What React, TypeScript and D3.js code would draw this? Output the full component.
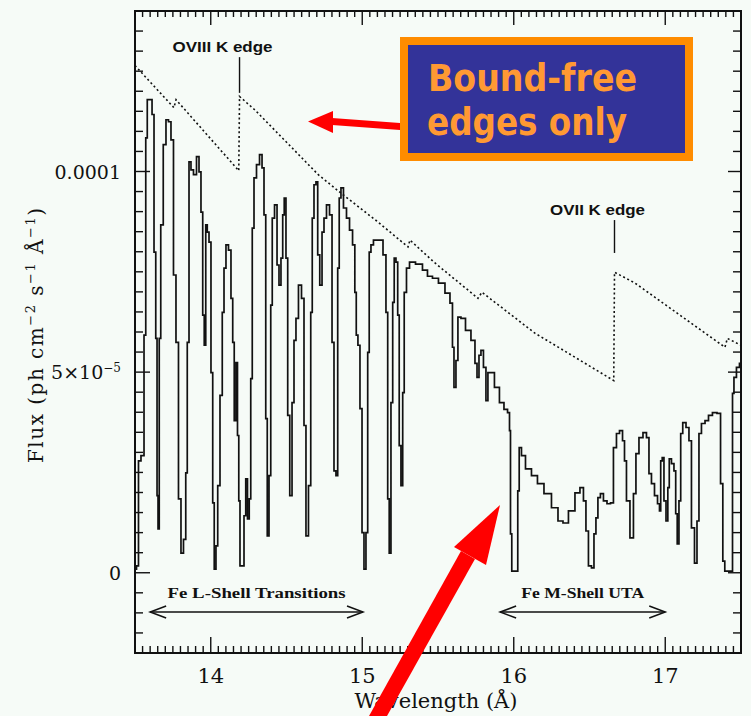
import React from "react";
import * as d3 from "d3";

// Model spectrum: wavelength (Å) and flux in units of 1e-5 ph cm^-2 s^-1 Å^-1
const specWl = [
  13.5, 13.52, 13.526, 13.553, 13.566, 13.576, 13.586, 13.606, 13.619, 13.632,
  13.642, 13.649, 13.655, 13.665, 13.675, 13.698, 13.711, 13.731, 13.744, 13.764,
  13.777, 13.797, 13.81, 13.83, 13.84, 13.85, 13.863, 13.876, 13.896, 13.916,
  13.929, 13.942, 13.952, 13.962, 13.972, 13.982, 13.995, 14.008, 14.018, 14.028,
  14.041, 14.051, 14.071, 14.081, 14.094, 14.107, 14.127, 14.14, 14.15, 14.16,
  14.173, 14.18, 14.19, 14.196, 14.213, 14.226, 14.236, 14.249, 14.259, 14.269,
  14.279, 14.292, 14.312, 14.332, 14.345, 14.358, 14.368, 14.378, 14.391, 14.401,
  14.411, 14.431, 14.444, 14.457, 14.47, 14.48, 14.49, 14.503, 14.513, 14.53,
  14.543, 14.556, 14.569, 14.589, 14.609, 14.622, 14.635, 14.655, 14.665, 14.675,
  14.688, 14.701, 14.711, 14.728, 14.741, 14.754, 14.774, 14.794, 14.807, 14.82,
  14.833, 14.843, 14.853, 14.866, 14.886, 14.906, 14.926, 14.946, 14.956, 14.965,
  14.978, 14.992, 15.005, 15.018, 15.031, 15.041, 15.051, 15.064, 15.084, 15.124,
  15.15, 15.163, 15.173, 15.183, 15.196, 15.206, 15.216, 15.229, 15.239, 15.249,
  15.262, 15.272, 15.282, 15.302, 15.322, 15.381, 15.414, 15.447, 15.48, 15.526,
  15.566, 15.592, 15.599, 15.612, 15.625, 15.638, 15.665, 15.698, 15.737, 15.751,
  15.764, 15.777, 15.79, 15.81, 15.823, 15.836, 15.856, 15.889, 15.922, 15.949,
  15.969, 15.975, 15.982, 15.992, 16.022, 16.031, 16.041, 16.061, 16.094, 16.14,
  16.173, 16.226, 16.272, 16.312, 16.338, 16.384, 16.424, 16.45, 16.47, 16.483,
  16.503, 16.523, 16.536, 16.549, 16.562, 16.582, 16.602, 16.629, 16.648, 16.668,
  16.688, 16.708, 16.728, 16.734, 16.754, 16.78, 16.8, 16.813, 16.84, 16.866,
  16.886, 16.899, 16.919, 16.939, 16.959, 16.965, 16.975, 16.985, 16.998, 17.012,
  17.022, 17.031, 17.051, 17.064, 17.074, 17.084, 17.097, 17.107, 17.124, 17.15,
  17.163, 17.183, 17.203, 17.216, 17.229, 17.249, 17.276, 17.295, 17.328, 17.355,
  17.375, 17.385, 17.401, 17.441, 17.447, 17.46, 17.48, 17.5,
];
const specFlux = [
  0.09, 0.17, 2.79, 2.92, 5.92, 10.84, 11.79, 11.79, 11.42, 7.99,
  5.84, 1.92, 1.09, 5.84, 8.67, 10.67, 11.29, 11.24, 10.79, 7.42,
  5.74, 1.84, 0.49, 0.83, 2.49, 5.74, 10.24, 10.04, 9.92, 10.37,
  9.99, 8.99, 6.42, 5.67, 8.67, 8.49, 8.24, 4.99, 1.74, 0.09,
  0.67, 2.17, 4.42, 6.49, 7.59, 8.17, 8.04, 6.84, 5.74, 3.79,
  5.24, 3.42, 1.79, 0.17, 0.17, 1.42, 2.34, 1.34, 1.84, 4.84,
  8.59, 9.84, 10.17, 10.42, 10.09, 8.92, 3.84, 0.92, 2.42, 6.67,
  8.84, 9.17, 7.67, 7.17, 7.84, 8.92, 9.34, 7.84, 3.92, 1.92,
  4.24, 5.79, 6.34, 7.17, 6.84, 3.67, 0.92, 2.17, 6.49, 8.84,
  9.67, 9.74, 7.92, 7.17, 8.49, 8.84, 9.17, 8.92, 5.74, 2.54,
  2.42, 7.59, 9.34, 9.59, 9.09, 8.84, 8.54, 8.17, 6.99, 5.92,
  5.67, 4.09, 1.0, 0.09, 1.0, 5.49, 7.99, 8.17, 8.29, 8.29,
  7.92, 6.49, 1.84, 0.49, 4.24, 6.74, 7.84, 7.74, 6.42, 3.17,
  2.17, 4.49, 6.99, 7.59, 7.74, 7.69, 7.54, 7.39, 7.34, 7.22,
  6.97, 6.72, 5.62, 4.62, 5.29, 6.37, 6.34, 6.04, 5.79, 5.22,
  4.87, 5.42, 5.54, 5.12, 4.29, 4.99, 4.99, 4.62, 4.24, 4.07,
  3.99, 3.54, 0.97, 0.04, 0.04, 2.04, 3.12, 2.92, 2.59, 2.42,
  2.22, 1.97, 1.62, 1.29, 1.24, 1.54, 1.99, 2.12, 1.79, 1.04,
  0.17, 0.12, 0.97, 1.37, 1.87, 1.97, 1.79, 1.72, 1.74, 3.12,
  3.47, 3.54, 3.29, 2.79, 1.79, 0.87, 1.97, 2.97, 3.37, 3.49,
  3.37, 2.47, 2.22, 1.92, 1.72, 1.54, 2.79, 2.87, 1.79, 1.29,
  2.12, 2.84, 2.72, 2.54, 1.47, 0.72, 1.79, 3.47, 3.74, 3.62,
  3.29, 1.12, 0.24, 1.29, 3.47, 3.72, 3.79, 3.92, 3.99, 3.97,
  2.22, 0.29, 0.04, 0.04, 4.47, 4.87, 5.12, 5.22,
];

// Continuum with bound-free edges only (same units)
const contWl = [
  13.5, 13.757, 13.771, 14.185, 14.19, 14.29, 14.71, 14.85, 15.104, 15.302,
  15.315, 15.48, 15.764, 15.79, 16.14, 16.66, 16.665, 16.8, 17.394, 17.41, 17.5,
];
const contFlux = [
  12.64, 11.59, 11.79, 10.02, 11.87, 11.54, 9.92, 9.49, 8.74, 8.12,
  8.29, 7.72, 6.84, 6.99, 5.97, 4.79, 7.49, 7.22, 5.62, 5.84, 5.67,
];

const xMajorTicks = [14, 15, 16, 17];
const yMajorTicks = [0, 5, 10];

// Absorption edge markers: label, edge wavelength, marker flux span
const edgeLabels = ["OVIII K edge", "OVII K edge"];
const edgeWl = [14.19, 16.665];
const edgeTop = [12.85, 8.79];
const edgeBottom = [11.96, 7.97];
const edgeLabelWidth = [100, 95];

// Wavelength ranges of the transition groups
const bandLabels = ["Fe L-Shell Transitions", "Fe M-Shell UTA"];
const bandFrom = [13.6, 15.91];
const bandTo = [15.005, 17.0];
const bandLabelWidth = [178, 123];

const W = 751;
const H = 716;
const L = 135, R = 741, T = 11, B = 653;

export default function App() {
  const x = d3.scaleLinear().domain([13.5, 17.5]).range([L, R]);
  const y = d3.scaleLinear().domain([-2, 14]).range([B, T]);

  const spec = specWl.map((w, i) => [w, specFlux[i]] as [number, number]);
  const cont = contWl.map((w, i) => [w, contFlux[i]] as [number, number]);
  const line = d3
    .line<[number, number]>()
    .x((d) => x(d[0]))
    .y((d) => y(d[1]));
  const stepLine = d3
    .line<[number, number]>()
    .x((d) => x(d[0]))
    .y((d) => y(d[1]))
    .curve(d3.curveStep);

  const xMinor = d3.range(13.5, 17.5001, 0.05).map((v) => +v.toFixed(2));
  const yMinor = d3.range(-2, 14.0001, 0.5).map((v) => +v.toFixed(2));
  const isMajorX = (v: number) => Math.abs(v - Math.round(v)) < 1e-6;
  const isMajorY = (v: number) => Math.abs(v / 5 - Math.round(v / 5)) < 1e-6;

  const tickFont = "DejaVu Serif";
  const bandY = y(-0.98);

  const harpoon = (xt: number, dir: number, yy: number) =>
    `M${xt + dir * 16},${yy - 6} L${xt},${yy} L${xt + dir * 16},${yy + 6}`;

  return (
    <svg
      width={W}
      height={H}
      style={{ position: "absolute", left: 0, top: 0, background: "#f6fbf7" }}
    >
      <rect x={0} y={0} width={W} height={H} fill="#f6fbf7" />

      {/* frame */}
      <rect x={L} y={T} width={R - L} height={B - T} fill="none" stroke="#111" strokeWidth={2} />

      {/* x ticks (bottom and top, inward) */}
      {xMinor.map((v, i) => {
        const maj = isMajorX(v);
        const xx = x(v);
        return (
          <g key={"xt" + i} stroke="#111" strokeWidth={1.4}>
            <line x1={xx} x2={xx} y1={B} y2={B - (maj ? 16 : 7)} />
            <line x1={xx} x2={xx} y1={T} y2={T + (maj ? 14 : 6)} />
          </g>
        );
      })}
      {/* y ticks (left and right, inward) */}
      {yMinor.map((v, i) => {
        const maj = isMajorY(v);
        const yy = y(v);
        return (
          <g key={"yt" + i} stroke="#111" strokeWidth={1.4}>
            <line x1={L} x2={L + (maj ? 15 : 8)} y1={yy} y2={yy} />
            <line x1={R} x2={R - (maj ? 13 : 8)} y1={yy} y2={yy} />
          </g>
        );
      })}

      {/* x tick labels */}
      {xMajorTicks.map((v) => (
        <text
          key={"xl" + v}
          x={x(v)}
          y={683}
          textAnchor="middle"
          fontFamily={tickFont}
          fontSize={21}
          fill="#111"
        >
          {v}
        </text>
      ))}

      {/* y tick labels */}
      {yMajorTicks.map((v) => (
        <text
          key={"yl" + v}
          x={121}
          y={y(v) + 7}
          textAnchor="end"
          fontFamily={tickFont}
          fontSize={19}
          fill="#111"
        >
          {v === 0 ? (
            "0"
          ) : v === 5 ? (
            <>
              5×10
              <tspan dy={-7} fontSize={12}>
                −5
              </tspan>
            </>
          ) : (
            "0.0001"
          )}
        </text>
      ))}

      {/* axis titles */}
      <text
        x={436}
        y={708}
        textAnchor="middle"
        fontFamily={tickFont}
        fontSize={21}
        fill="#111"
      >
        Wavelength (Å)
      </text>
      <text
        transform="translate(43,463) rotate(-90)"
        fontFamily={tickFont}
        fontSize={20}
        fill="#111"
        textLength={255}
        lengthAdjust="spacing"
      >
        Flux (ph cm
        <tspan dy={-8} fontSize={13}>−2</tspan>
        <tspan dy={8}> s</tspan>
        <tspan dy={-8} fontSize={13}>−1</tspan>
        <tspan dy={8}> Å</tspan>
        <tspan dy={-8} fontSize={13}>−1</tspan>
        <tspan dy={8}>)</tspan>
      </text>

      {/* continuum with bound-free edges */}
      <path
        d={line(cont) || ""}
        fill="none"
        stroke="#111"
        strokeWidth={1.6}
        strokeDasharray="2 2.6"
      />

      {/* full spectrum */}
      <path d={stepLine(spec) || ""} fill="none" stroke="#111" strokeWidth={1.7} />

      {/* edge markers */}
      {edgeLabels.map((lab, i) => (
        <g key={lab}>
          <line
            x1={x(edgeWl[i])}
            x2={x(edgeWl[i])}
            y1={y(edgeTop[i])}
            y2={y(edgeBottom[i])}
            stroke="#111"
            strokeWidth={1.4}
          />
          <text
            x={x(edgeWl[i]) - 17}
            y={y(edgeTop[i]) - 5}
            textAnchor="middle"
            fontFamily="Liberation Sans"
            fontWeight="bold"
            fontSize={15}
            fill="#111"
            textLength={edgeLabelWidth[i]}
            lengthAdjust="spacingAndGlyphs"
          >
            {lab}
          </text>
        </g>
      ))}

      {/* transition bands */}
      {bandLabels.map((lab, i) => {
        const x0 = x(bandFrom[i]);
        const x1 = x(bandTo[i]);
        return (
          <g key={lab} stroke="#111" fill="none" strokeWidth={1.5}>
            <line x1={x0} x2={x1} y1={bandY} y2={bandY} />
            <path d={harpoon(x0, 1, bandY)} />
            <path d={harpoon(x1, -1, bandY)} />
            <text
              x={(x0 + x1) / 2}
              y={bandY - 14}
              textAnchor="middle"
              fontFamily="Liberation Serif"
              fontWeight="bold"
              fontSize={15}
              fill="#111"
              stroke="none"
              textLength={bandLabelWidth[i]}
              lengthAdjust="spacingAndGlyphs"
            >
              {lab}
            </text>
          </g>
        );
      })}

      {/* callout box */}
      <rect x={400} y={37} width={293} height={124} fill="#ff8c00" />
      <rect x={408} y={45} width={277} height={108} fill="#333399" />
      <text
        x={428}
        y={91}
        fontFamily="DejaVu Sans"
        fontWeight="bold"
        fontSize={37}
        fill="#ff9933"
        textLength={209}
        lengthAdjust="spacingAndGlyphs"
      >
        Bound-free
      </text>
      <text
        x={427}
        y={135}
        fontFamily="DejaVu Sans"
        fontWeight="bold"
        fontSize={37}
        fill="#ff9933"
        textLength={200}
        lengthAdjust="spacingAndGlyphs"
      >
        edges only
      </text>

      {/* red pointer arrows */}
      <g fill="#ff0000" stroke="none">
        <polygon points="400,123 332,118 332,125 400,130" />
        <polygon points="308,121.5 333,111 333,133" />
        <polygon points="369,716 461,551 475,559 387,716" />
        <polygon points="500,505 454,547 486,565" />
      </g>
    </svg>
  );
}
